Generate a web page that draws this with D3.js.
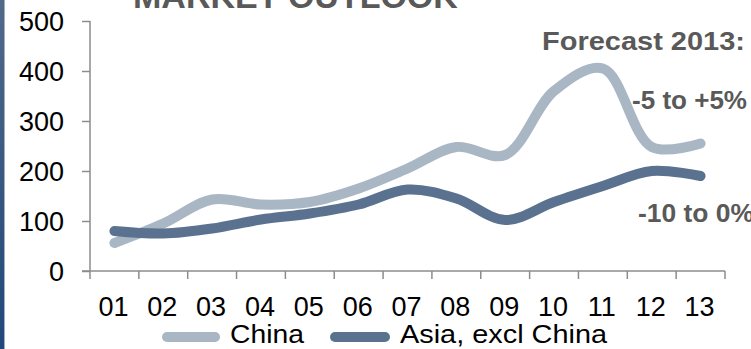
<!DOCTYPE html>
<html>
<head>
<meta charset="utf-8">
<script src="https://cdn.jsdelivr.net/npm/d3@7"></script>
<style>
  html, body { margin: 0; padding: 0; background: #fff; }
  svg { display: block; font-family: "Liberation Sans", Arial, sans-serif; }
</style>
</head>
<body>
<svg id="chart" width="751" height="349"></svg>
<script>
// Years shown on the category axis
const years = ["01", "02", "03", "04", "05", "06", "07", "08", "09", "10", "11", "12", "13"];
// Market volumes per year
const china = [56, 95, 143, 133, 138, 165, 205, 248, 232, 360, 405, 248, 255];
const asiaExChina = [80, 75, 85, 103, 115, 133, 163, 145, 102, 138, 170, 200, 190];
// Value axis ticks
const yTicks = [0, 100, 200, 300, 400, 500];

const seriesNames = ["China", "Asia, excl China"];
const seriesColors = ["#a9b6c4", "#5a7290"];

const svg = d3.select("#chart");

// Decorative blue edge on the left
const defs = svg.append("defs");
const grad = defs.append("linearGradient").attr("id", "edge").attr("x1", 0).attr("y1", 0).attr("x2", 0).attr("y2", 1);
grad.append("stop").attr("offset", "0%").attr("stop-color", "#52698a");
grad.append("stop").attr("offset", "100%").attr("stop-color", "#21477a");
svg.append("rect").attr("x", 0).attr("y", 0).attr("width", 4).attr("height", 349).attr("fill", "url(#edge)");
svg.append("line").attr("x1", 4.5).attr("x2", 4.5).attr("y1", 0).attr("y2", 349).attr("stroke", "#a4afbd").attr("stroke-width", 1);

const x = d3.scaleBand().domain(years).range([90, 725]);
const y = d3.scaleLinear().domain([0, 500]).range([271, 21]);

const axisColor = "#8c8c8c";

// Y axis
const yAxis = svg.append("g").attr("transform", "translate(90,0)")
  .call(d3.axisLeft(y).tickValues(yTicks).tickSize(8).tickPadding(0).tickFormat(d3.format("d")));
yAxis.select(".domain").attr("stroke", axisColor).attr("stroke-width", 1.5).attr("d", `M0,${y(500)}V${y(0)}`);
yAxis.selectAll(".tick line").attr("stroke", axisColor).attr("stroke-width", 1.5);
yAxis.selectAll(".tick text")
  .attr("x", -26).attr("dy", null).attr("y", 9.5)
  .attr("font-size", 27).attr("fill", "#000").attr("font-family", "Liberation Sans, Arial, sans-serif");

// X axis: ticks sit on the category boundaries
const xAxisG = svg.append("g").attr("transform", `translate(0,${y(0)})`);
xAxisG.append("line").attr("x1", 82).attr("x2", 725).attr("y1", 0).attr("y2", 0)
  .attr("stroke", axisColor).attr("stroke-width", 1.5);
const boundaries = years.map(d => x(d)).concat([x(years[years.length - 1]) + x.bandwidth()]);
xAxisG.selectAll("line.tk").data(boundaries).join("line").attr("class", "tk")
  .attr("x1", d => d).attr("x2", d => d).attr("y1", 0).attr("y2", 8)
  .attr("stroke", axisColor).attr("stroke-width", 1.5);
svg.append("g").selectAll("text").data(years).join("text")
  .attr("x", d => x(d) + x.bandwidth() / 2 - 1)
  .attr("y", 316)
  .attr("text-anchor", "middle")
  .attr("font-size", 27)
  .attr("fill", "#000")
  .text(d => d);

// Series lines
const line = d3.line()
  .x((d, i) => x(years[i]) + x.bandwidth() / 2)
  .y(d => y(d))
  .curve(d3.curveCatmullRom.alpha(0.5));

[china, asiaExChina].forEach((vals, k) => {
  svg.append("path")
    .datum(vals)
    .attr("d", line)
    .attr("fill", "none")
    .attr("stroke", seriesColors[k])
    .attr("stroke-width", 10)
    .attr("stroke-linecap", "round")
    .attr("stroke-linejoin", "round");
});

// Title
svg.append("text").attr("x", 133).attr("y", 8)
  .attr("font-size", 34).attr("font-weight", "bold").attr("fill", "#595959")
  .text("MARKET OUTLOOK");

// Forecast annotations
const note = svg.append("g").attr("font-weight", "bold").attr("fill", "#595959");
note.append("text").attr("x", 542).attr("y", 50).attr("font-size", 26)
  .attr("textLength", 203).attr("lengthAdjust", "spacingAndGlyphs").text("Forecast 2013:");
note.append("text").attr("x", 632).attr("y", 109).attr("font-size", 25)
  .attr("textLength", 115).attr("lengthAdjust", "spacingAndGlyphs").text("-5 to +5%");
note.append("text").attr("x", 638).attr("y", 222).attr("font-size", 25)
  .attr("textLength", 116).attr("lengthAdjust", "spacingAndGlyphs").text("-10 to 0%");

// Legend
const legend = svg.append("g");
const legendItems = [
  { x1: 167, x2: 215, tx: 230, w: 74 },
  { x1: 335, x2: 385, tx: 400, w: 207 }
];
legendItems.forEach((it, k) => {
  legend.append("line").attr("x1", it.x1).attr("x2", it.x2).attr("y1", 337).attr("y2", 337)
    .attr("stroke", seriesColors[k]).attr("stroke-width", 10).attr("stroke-linecap", "round");
  legend.append("text").attr("x", it.tx).attr("y", 343).attr("font-size", 26).attr("fill", "#000")
    .attr("textLength", it.w).attr("lengthAdjust", "spacingAndGlyphs")
    .text(seriesNames[k]);
});
</script>
</body>
</html>
